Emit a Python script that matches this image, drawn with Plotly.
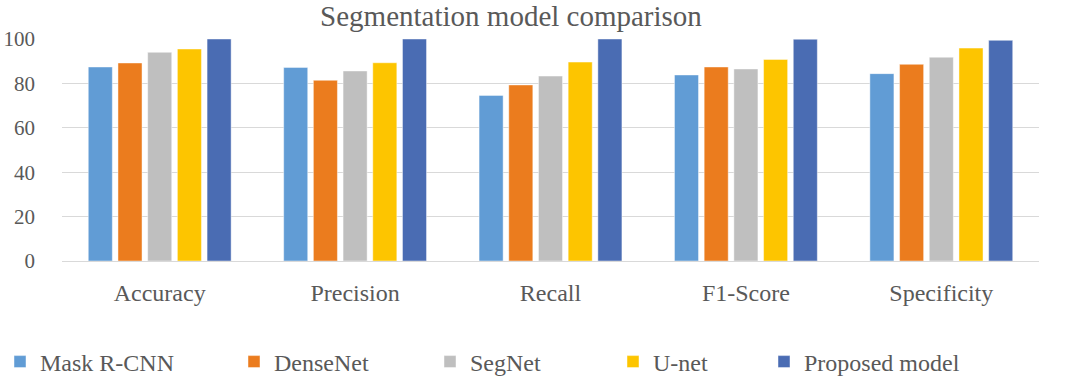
import plotly.graph_objects as go

categories = ["Accuracy", "Precision", "Recall", "F1-Score", "Specificity"]
mask_rcnn = [87.4, 87.2, 74.6, 83.8, 84.4]
densenet = [89.2, 81.4, 79.3, 87.4, 88.6]
segnet = [94.0, 85.6, 83.3, 86.5, 91.8]
unet = [95.5, 89.3, 89.6, 90.8, 95.9]
proposed = [100.0, 100.0, 100.0, 99.9, 99.4]

series_names = ["Mask R-CNN", "DenseNet", "SegNet", "U-net", "Proposed model"]
series_values = [mask_rcnn, densenet, segnet, unet, proposed]
colors = ["#619CD5", "#EB7C1E", "#BFBFBF", "#FDC500", "#4A6CB3"]
legend_ids = ["legend", "legend2", "legend3", "legend4", "legend5"]
legend_px = [-5, 234, 430, 613, 764]

FONT = "Liberation Serif, Times New Roman, serif"
GRAY = "#595959"
W, H = 1067, 380

fig = go.Figure()
for name, vals, c, lg in zip(series_names, series_values, colors, legend_ids):
    fig.add_trace(go.Bar(
        x=categories, y=vals, name=name, legend=lg,
        marker=dict(color=c, line=dict(color="rgba(255,255,255,0.45)", width=1)),
    ))

legend_layout = {}
for lg, px in zip(legend_ids, legend_px):
    legend_layout[lg] = dict(
        orientation="h", xref="container", yref="container",
        x=px / W, xanchor="left", y=1 - 362 / H, yanchor="middle",
        font=dict(family=FONT, size=24, color=GRAY),
        itemwidth=30, bgcolor="rgba(0,0,0,0)",
    )

fig.update_layout(
    width=W, height=H,
    margin=dict(l=62, r=W - 1039, t=39, b=H - 261, autoexpand=False),
    paper_bgcolor="white", plot_bgcolor="white",
    barmode="group", bargap=0.24, bargroupgap=0.19,
    title=dict(text="Segmentation model comparison", xref="container",
               x=511 / W, xanchor="center",
               yref="container", y=1 - 16 / H, yanchor="middle",
               font=dict(family=FONT, size=29, color=GRAY)),
    font=dict(family=FONT, size=20, color=GRAY),
    showlegend=True,
    **legend_layout,
)
fig.update_yaxes(range=[0, 100], dtick=20, showgrid=True, gridcolor="#D9D9D9",
                 gridwidth=1, zeroline=False, showline=False, automargin=False,
                 tickfont=dict(family=FONT, size=21, color=GRAY),
                 ticks="", ticklabelstandoff=26)
fig.update_xaxes(showline=True, linecolor="#D9D9D9", linewidth=1, ticks="",
                 automargin=False,
                 tickfont=dict(family=FONT, size=24, color=GRAY),
                 ticklabelstandoff=10)

fig.write_html("out.html",
               config={"displayModeBar": False},
               post_script="document.body.style.margin='0';document.body.style.overflow='hidden';")
